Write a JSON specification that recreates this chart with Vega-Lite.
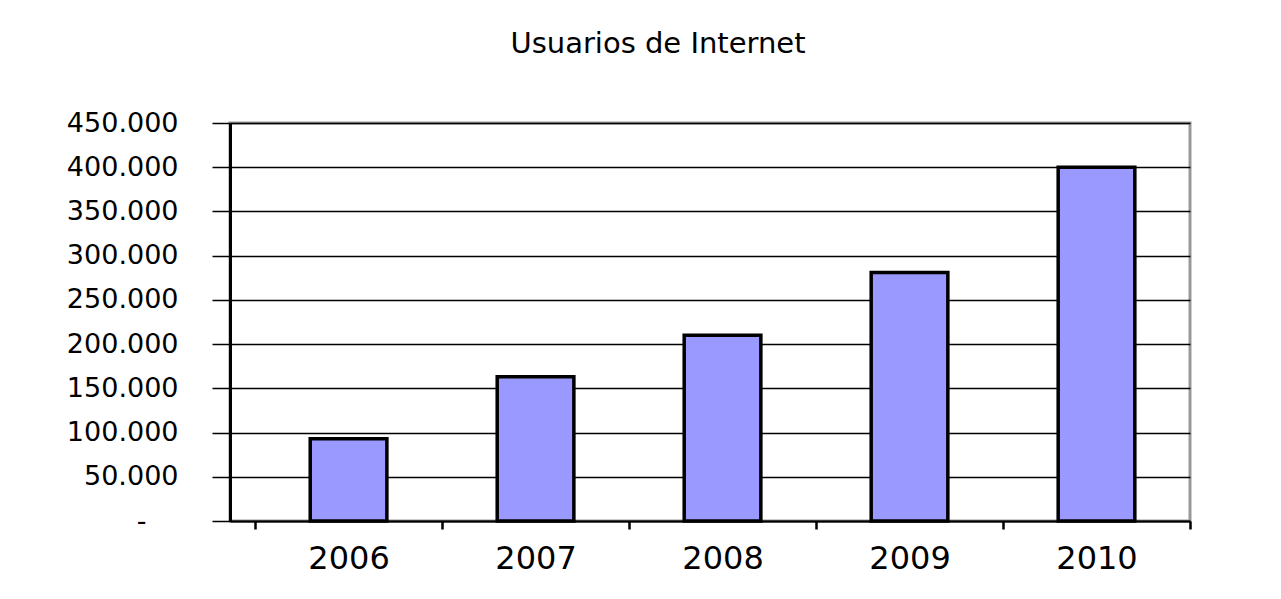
{
  "$schema": "https://vega.github.io/schema/vega-lite/v6.json",
  "width": 960,
  "height": 398,
  "autosize": {"type": "none"},
  "padding": {"left": 230, "top": 123, "right": 91, "bottom": 78},
  "background": "white",
  "title": {
    "text": "Usuarios de Internet",
    "anchor": "middle",
    "frame": "group",
    "dx": -52,
    "offset": 50,
    "font": "DejaVu Sans",
    "fontSize": 29,
    "fontWeight": "normal",
    "color": "#000000"
  },
  "data": {
    "values": [
      {"year": "2006", "users": 93000},
      {"year": "2007", "users": 163000},
      {"year": "2008", "users": 210000},
      {"year": "2009", "users": 281000},
      {"year": "2010", "users": 400000}
    ]
  },
  "mark": {"type": "bar", "fill": "#9999FF", "stroke": "#000000", "strokeWidth": 3.5, "width": {"band": 0.41}},
  "encoding": {
    "x": {
      "field": "year",
      "type": "nominal",
      "sort": null,
      "scale": {"paddingInner": 0, "paddingOuter": 0.067, "align": 1},
      "axis": {
        "title": null,
        "labelAngle": 0,
        "tickBand": "extent",
        "domainColor": "#000000",
        "domainWidth": 2,
        "tickColor": "#000000",
        "tickWidth": 2.5,
        "tickSize": 8,
        "labelFont": "DejaVu Sans",
        "labelFontSize": 32,
        "labelColor": "#000000",
        "labelPadding": 14,
        "grid": false
      }
    },
    "y": {
      "field": "users",
      "type": "quantitative",
      "scale": {"domain": [0, 450000], "nice": false},
      "axis": {
        "title": null,
        "values": [0, 50000, 100000, 150000, 200000, 250000, 300000, 350000, 400000, 450000],
        "format": ",d",
        "labelExpr": "datum.value === 0 ? '-' : datum.label",
        "domainColor": "#000000",
        "domainWidth": 3,
        "tickColor": "#000000",
        "tickWidth": 1.5,
        "tickSize": 18,
        "labelFont": "DejaVu Sans",
        "labelFontSize": 27,
        "labelColor": "#000000",
        "labelPadding": {"condition": {"test": "datum.value === 0", "value": 66}, "value": 34},
        "labelBaseline": "middle",
        "grid": true,
        "gridColor": "#000000",
        "gridWidth": 1.5
      }
    }
  },
  "config": {
    "locale": {"number": {"decimal": ",", "thousands": ".", "grouping": [3], "currency": ["", " €"]}},
    "view": {"stroke": "#999999", "strokeWidth": 3}
  }
}
